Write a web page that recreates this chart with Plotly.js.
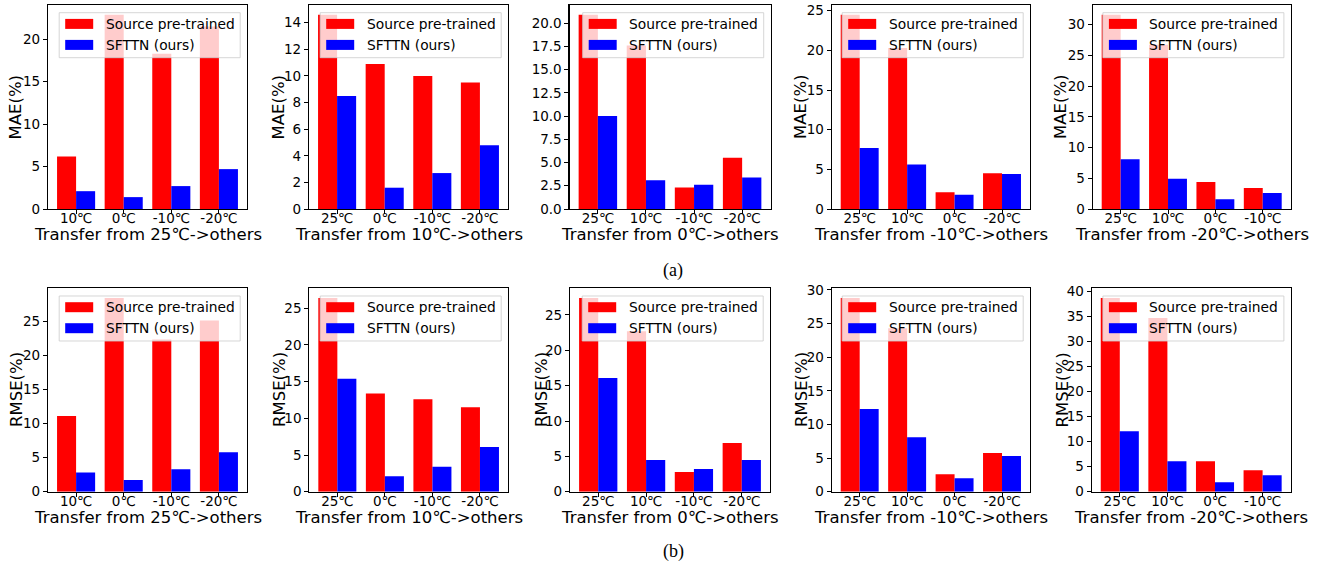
<!DOCTYPE html>
<html><head><meta charset="utf-8">
<script src="https://cdn.plot.ly/plotly-3.0.1.min.js"></script>
<style>html,body{margin:0;padding:0;background:#fff}#chart{width:1322px;height:569px}</style>
</head><body><div id="chart"></div>
<script>
// ---------- data ----------
const seriesNames = ['Source pre-trained', 'SFTTN (ours)'];
const seriesColors = ['#ff0000', '#0000ff'];

const cats25 = ['10℃', '0℃', '-10℃', '-20℃'];
const cats10 = ['25℃', '0℃', '-10℃', '-20℃'];
const cats0 = ['25℃', '10℃', '-10℃', '-20℃'];
const catsM10 = ['25℃', '10℃', '0℃', '-20℃'];
const catsM20 = ['25℃', '10℃', '0℃', '-10℃'];

const xTitle25 = 'Transfer from 25℃->others';
const xTitle10 = 'Transfer from 10℃->others';
const xTitle0 = 'Transfer from 0℃->others';
const xTitleM10 = 'Transfer from -10℃->others';
const xTitleM20 = 'Transfer from -20℃->others';

const maeSrc25 = [6.2, 22.9, 18.3, 21.5];
const maeOurs25 = [2.1, 1.4, 2.7, 4.7];
const maeSrc10 = [14.6, 10.9, 10.0, 9.5];
const maeOurs10 = [8.5, 1.6, 2.7, 4.8];
const maeSrc0 = [20.9, 17.6, 2.3, 5.5];
const maeOurs0 = [10.0, 3.1, 2.6, 3.4];
const maeSrcM10 = [24.5, 20.3, 2.1, 4.5];
const maeOursM10 = [7.7, 5.6, 1.8, 4.4];
const maeSrcM20 = [31.6, 26.7, 4.4, 3.4];
const maeOursM20 = [8.1, 4.9, 1.6, 2.6];

const rmseSrc25 = [11.1, 28.4, 22.3, 25.1];
const rmseOurs25 = [2.8, 1.7, 3.3, 5.8];
const rmseSrc10 = [26.4, 13.4, 12.6, 11.5];
const rmseOurs10 = [15.4, 2.1, 3.4, 6.1];
const rmseSrc0 = [27.4, 22.7, 2.8, 6.9];
const rmseOurs0 = [16.1, 4.5, 3.2, 4.5];
const rmseSrcM10 = [28.8, 24.3, 2.6, 5.75];
const rmseOursM10 = [12.3, 8.1, 2.0, 5.3];
const rmseSrcM20 = [38.7, 34.7, 6.1, 4.3];
const rmseOursM20 = [12.1, 6.1, 1.9, 3.3];

const yTitleMAE = 'MAE(%)';
const yTitleRMSE = 'RMSE(%)';
const captions = ['(a)', '(b)'];

// ---------- layout helpers ----------
const W = 1322, H = 569;
const FONT = "'DejaVu Sans', sans-serif";
const px = x => x / W;
const py = y => 1 - y / H;

// panel geometry in pixels: [left, top, right, bottom]
const panels = [
  {cats: cats25, src: maeSrc25, ours: maeOurs25, xt: xTitle25, yt: yTitleMAE, dtick: 5, fmt: 'd', box: [48, 5, 247, 209], ylx: 15.5},
  {cats: cats10, src: maeSrc10, ours: maeOurs10, xt: xTitle10, yt: yTitleMAE, dtick: 2, fmt: 'd', box: [309, 5, 508, 209], ylx: 278.5},
  {cats: cats0, src: maeSrc0, ours: maeOurs0, xt: xTitle0, yt: null, dtick: 2.5, fmt: '.1f', box: [569.5, 5, 770.5, 209], ylx: null},
  {cats: catsM10, src: maeSrcM10, ours: maeOursM10, xt: xTitleM10, yt: yTitleMAE, dtick: 5, fmt: 'd', box: [831.7, 5, 1030, 209], ylx: 801},
  {cats: catsM20, src: maeSrcM20, ours: maeOursM20, xt: xTitleM20, yt: yTitleMAE, dtick: 5, fmt: 'd', box: [1092.7, 5, 1290.7, 209], ylx: 1061},
  {cats: cats25, src: rmseSrc25, ours: rmseOurs25, xt: xTitle25, yt: yTitleRMSE, dtick: 5, fmt: 'd', box: [48, 288.3, 247, 491.7], ylx: 16},
  {cats: cats10, src: rmseSrc10, ours: rmseOurs10, xt: xTitle10, yt: yTitleRMSE, dtick: 5, fmt: 'd', box: [309.3, 288.3, 508, 491.7], ylx: 279},
  {cats: cats0, src: rmseSrc0, ours: rmseOurs0, xt: xTitle0, yt: yTitleRMSE, dtick: 5, fmt: 'd', box: [570, 288.3, 770, 491.7], ylx: 541},
  {cats: catsM10, src: rmseSrcM10, ours: rmseOursM10, xt: xTitleM10, yt: yTitleRMSE, dtick: 5, fmt: 'd', box: [831.7, 288.3, 1030, 491.7], ylx: 801},
  {cats: catsM20, src: rmseSrcM20, ours: rmseOursM20, xt: xTitleM20, yt: yTitleRMSE, dtick: 5, fmt: 'd', box: [1091.7, 288.3, 1290.7, 491.7], ylx: 1061.5}
];

const traces = [];
const layout = {
  width: W, height: H,
  margin: {l: 0, r: 0, t: 0, b: 0},
  paper_bgcolor: '#ffffff', plot_bgcolor: '#ffffff',
  barmode: 'group', bargap: 0.2, bargroupgap: 0,
  showlegend: false,
  font: {family: FONT, color: '#000'},
  shapes: [], annotations: []
};

panels.forEach((p, i) => {
  const n = i === 0 ? '' : String(i + 1);
  const [l, t, r, b] = p.box;
  [p.src, p.ours].forEach((vals, k) => {
    traces.push({
      type: 'bar', x: p.cats, y: vals, name: seriesNames[k],
      marker: {color: seriesColors[k], line: {width: 0}},
      xaxis: 'x' + n, yaxis: 'y' + n, hoverinfo: 'skip'
    });
  });
  const common = {
    showline: true, mirror: true, linecolor: '#000', linewidth: 1.1,
    ticks: 'outside', ticklen: 4, tickwidth: 1, tickcolor: '#000',
    tickfont: {family: FONT, size: 13.5, color: '#000'},
    showgrid: false, zeroline: false, fixedrange: true
  };
  layout['xaxis' + n] = Object.assign({}, common, {
    domain: [px(l), px(r)], anchor: 'y' + n, type: 'category',
    range: [-0.59, 3.59], ticklabelstandoff: -7
  });
  const ymax = Math.max(...p.src, ...p.ours) * 1.05;
  layout['yaxis' + n] = Object.assign({}, common, {
    domain: [py(b), py(t)], anchor: 'x' + n, range: [0, ymax],
    tickmode: 'linear', tick0: 0, dtick: p.dtick, tickformat: p.fmt
  });

  // x label
  layout.annotations.push({
    xref: 'paper', yref: 'paper', x: px((l + r) / 2), y: py(b + 25.5),
    xanchor: 'center', yanchor: 'middle', showarrow: false,
    text: p.xt, font: {family: FONT, size: 16.5, color: '#000'}
  });
  // y label
  if (p.yt) {
    layout.annotations.push({
      xref: 'paper', yref: 'paper', x: px(p.ylx), y: py((t + b) / 2),
      xanchor: 'center', yanchor: 'middle', showarrow: false, textangle: -90,
      text: p.yt, font: {family: FONT, size: 16.5, color: '#000'}
    });
  }
  // legend box (matplotlib style)
  const lr = r - 6.8, lt = t + 7.7, lw = 181, lh = 45;
  const ll = lr - lw, lb = lt + lh;
  layout.shapes.push({
    type: 'rect', xref: 'paper', yref: 'paper', layer: 'above',
    x0: px(ll), x1: px(lr), y0: py(lb), y1: py(lt),
    fillcolor: 'rgba(255,255,255,0.8)', line: {color: 'rgba(204,204,204,0.8)', width: 1}
  });
  const rowY = [11.2, 32.2];
  seriesNames.forEach((nm, k) => {
    const cy = lt + rowY[k];
    layout.shapes.push({
      type: 'rect', xref: 'paper', yref: 'paper', layer: 'above',
      x0: px(ll + 6), x1: px(ll + 34), y0: py(cy + 5), y1: py(cy - 5),
      fillcolor: seriesColors[k], line: {width: 0}
    });
    layout.annotations.push({
      xref: 'paper', yref: 'paper', x: px(ll + 44.5), y: py(cy),
      xanchor: 'left', yanchor: 'middle', showarrow: false,
      text: nm, font: {family: FONT, size: 13.8, color: '#000'}
    });
  });
});

// captions
[[673, 270], [673, 551]].forEach((pos, k) => {
  layout.annotations.push({
    xref: 'paper', yref: 'paper', x: px(pos[0]), y: py(pos[1]),
    xanchor: 'center', yanchor: 'middle', showarrow: false,
    text: captions[k], font: {family: "'Liberation Serif', serif", size: 18, color: '#000'}
  });
});

Plotly.newPlot('chart', traces, layout, {displayModeBar: false, staticPlot: true});
</script></body></html>
